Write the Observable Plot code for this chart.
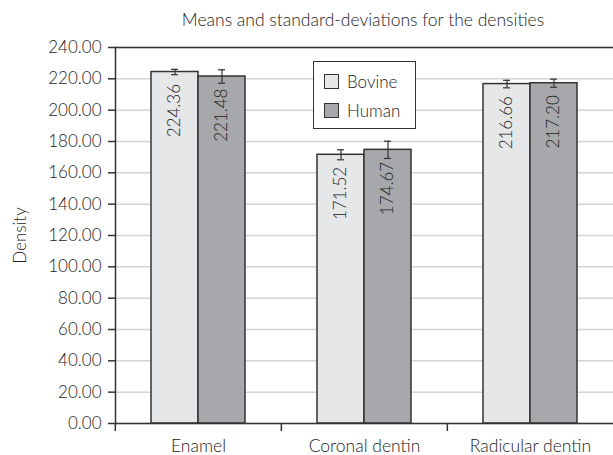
<!DOCTYPE html>
<html>
<head>
<meta charset="utf-8">
<script src="https://cdn.jsdelivr.net/npm/d3@7"></script>
<script src="https://cdn.jsdelivr.net/npm/@observablehq/plot@0.6"></script>
<style>
  body { margin: 0; background: #fff; }
  #wrap { position: relative; width: 613px; height: 455px; font-family: Lato, "Noto Sans", sans-serif; font-weight: 300; color: #222; }
  #title { position: absolute; left: 113px; width: 500px; top: 10px; text-align: center; font-size: 17.5px; line-height: 20px; }
  #legend { position: absolute; left: 313px; top: 61px; width: 103px; height: 68px; box-sizing: border-box;
            border: 1.5px solid #333; background: #fff; padding: 5px 0 0 10px; }
  .row { display: flex; align-items: center; height: 29px; font-size: 17px; }
  .sw { width: 13px; height: 13px; border: 1.2px solid #333; margin-right: 8px; }
</style>
</head>
<body>
<div id="wrap">
  <div id="chart"></div>
  <div id="title"></div>
  <div id="legend"></div>
</div>
<script>
const titleText = "Means and standard-deviations for the densities";
const yLabel = "Density";
const categories = ["Enamel", "Coronal dentin", "Radicular dentin"];
const series = ["Bovine", "Human"];
const bovineMeans = [224.36, 171.52, 216.66];
const humanMeans = [221.48, 174.67, 217.20];
const bovineSD = [1.7, 3.2, 2.4];
const humanSD = [4.3, 5.5, 2.6];
const yTicks = [0, 20, 40, 60, 80, 100, 120, 140, 160, 180, 200, 220, 240];
const colors = ["#e6e7e9", "#a7a8ab"];

const rows = [];
categories.forEach((c, i) => {
  rows.push({category: c, series: series[0], mean: bovineMeans[i], sd: bovineSD[i]});
  rows.push({category: c, series: series[1], mean: humanMeans[i], sd: humanSD[i]});
});

const W = 613, ML = 114;
const half = (W - ML) / categories.length / 2;

const plot = Plot.plot({
  width: W, height: 455,
  marginLeft: ML, marginRight: 0, marginTop: 47, marginBottom: 32,
  style: {fontFamily: "Lato, 'Noto Sans', sans-serif", fontWeight: 300, fontSize: "17px", color: "#222", background: "#fff", overflow: "visible"},
  fx: {domain: categories, padding: 0, label: null},
  x: {domain: series, paddingInner: 0, paddingOuter: 0.74, axis: null},
  y: {domain: [0, 240], label: null},
  color: {domain: series, range: colors},
  marks: [
    Plot.gridY(yTicks, {stroke: "#d4d4d4", strokeOpacity: 1, strokeWidth: 1.5}),
    Plot.barY(rows, {fx: "category", x: "series", y: "mean", fill: "series", stroke: "#333", strokeWidth: 1.5}),
    Plot.ruleX(rows, {fx: "category", x: "series", y1: d => d.mean - d.sd, y2: d => d.mean + d.sd, stroke: "#333", strokeWidth: 1.2}),
    Plot.tickY(rows, {fx: "category", x: "series", y: d => d.mean + d.sd, insetLeft: 20, insetRight: 20, stroke: "#333", strokeWidth: 1.2}),
    Plot.tickY(rows, {fx: "category", x: "series", y: d => d.mean - d.sd, insetLeft: 20, insetRight: 20, stroke: "#333", strokeWidth: 1.2}),
    Plot.text(rows, {fx: "category", x: "series", y: "mean", text: d => d.mean.toFixed(2), rotate: -90, textAnchor: "end", dy: 12, fontSize: 17, fill: "#222"}),
    Plot.ruleY([0, 240], {stroke: "#333", strokeWidth: 1.5}),
    Plot.frame({anchor: "left", facetAnchor: "left", stroke: "#333", strokeWidth: 1.5}),
    Plot.axisY({ticks: yTicks, tickFormat: ".2f", tickSize: 7, tickPadding: 7, stroke: "#333", strokeWidth: 1.5,
                label: yLabel, labelAnchor: "center", labelOffset: 102, labelArrow: "none", fontSize: 17}),
    Plot.axisFx({anchor: "bottom", tickSize: 8, tickFormat: () => "", label: null, dx: -half, stroke: "#333", strokeWidth: 1.5}),
    Plot.axisFx({anchor: "bottom", tickSize: 0, tickPadding: 16, label: null, fontSize: 17.5})
  ]
});
document.getElementById("chart").appendChild(plot);
document.getElementById("title").textContent = titleText;
const legend = document.getElementById("legend");
series.forEach((s, i) => {
  const r = document.createElement("div");
  r.className = "row";
  const sw = document.createElement("div");
  sw.className = "sw";
  sw.style.background = colors[i];
  r.appendChild(sw);
  r.appendChild(document.createTextNode(s));
  legend.appendChild(r);
});
</script>
</body>
</html>
